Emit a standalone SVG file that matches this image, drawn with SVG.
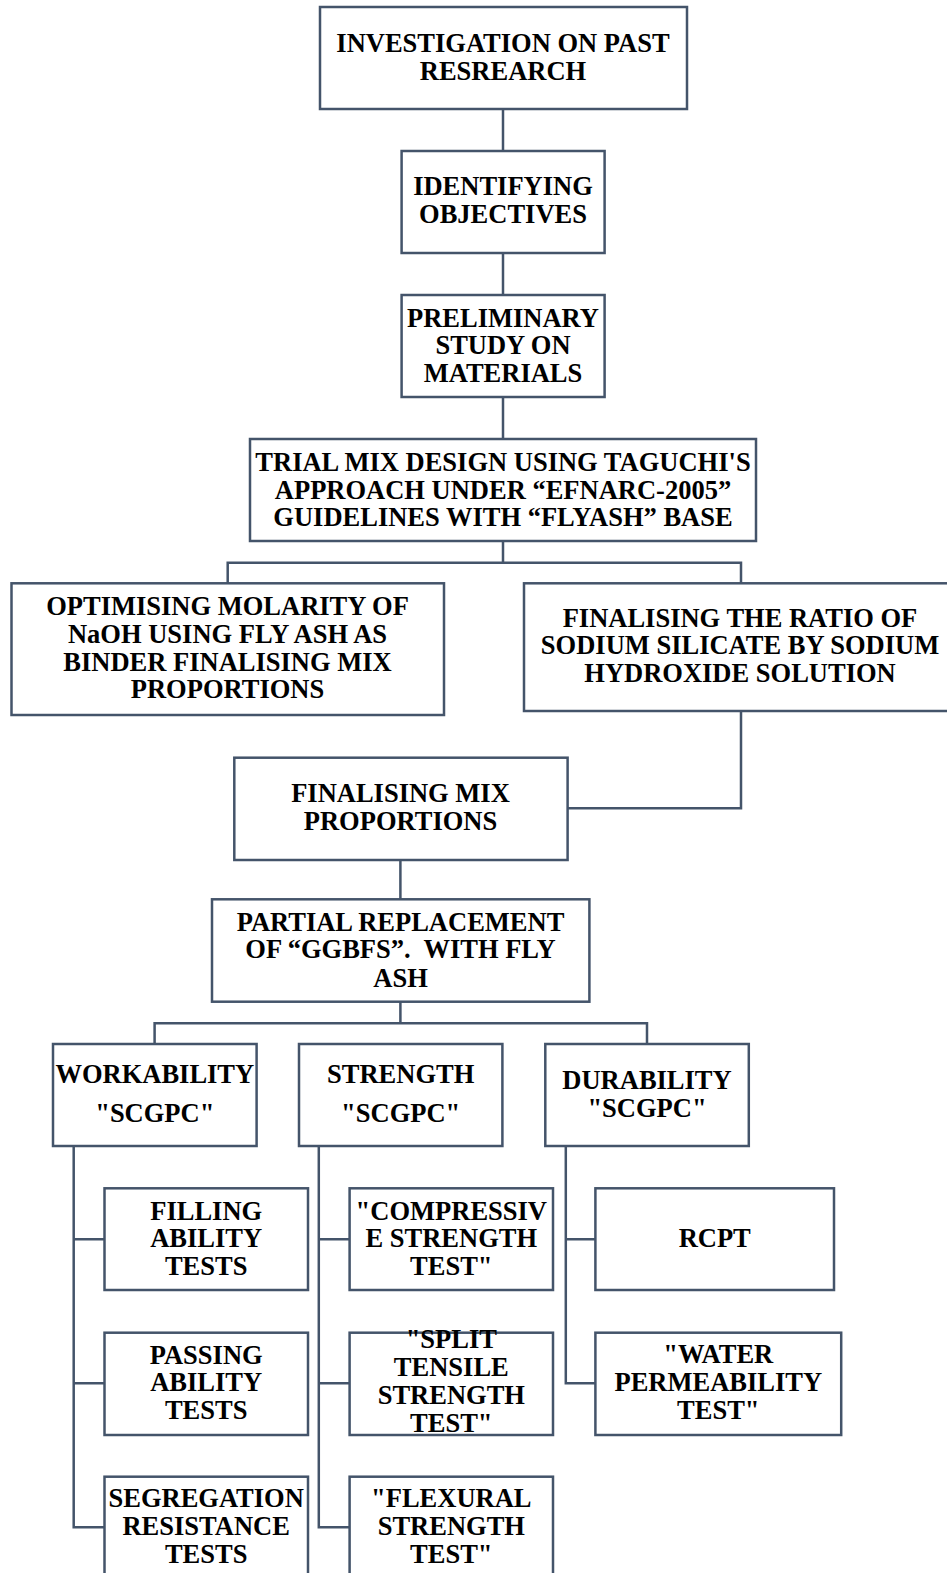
<svg xmlns="http://www.w3.org/2000/svg" width="947" height="1573" viewBox="0 0 947 1573">
<style>
rect.box{fill:#fff;stroke:#44546a;stroke-width:2.5}
.conn path{fill:none;stroke:#44546a;stroke-width:2.5}
text{font-family:"Liberation Serif","Times New Roman",serif;font-weight:bold;font-size:26.5px;fill:#000;text-anchor:middle}
</style>
<rect width="947" height="1573" fill="#fff"/>
<g class="conn" id="connectors">
<path d="M503 109V151"/>
<path d="M503 253V295"/>
<path d="M503 397V439"/>
<path d="M503 541V562.7M227.7 583.3V562.7H741V583.3"/>
<path d="M741 711V808.3H567.6"/>
<path d="M400.4 860V899.3"/>
<path d="M400.4 1001.7V1023.3M154.6 1044V1023.3H647V1044"/>
<path d="M73.7 1146V1527.3H104.5M73.7 1239.3H104.5M73.7 1383.3H104.5"/>
<path d="M318.8 1146V1527.3H349.6M318.8 1239.3H349.6M318.8 1383.3H349.6"/>
<path d="M565.8 1146V1383.3H595.4M565.8 1239.3H595.4"/>
</g>
<g id="n1"><rect class="box" x="320" y="7" width="367" height="102"/>
<text x="503" y="52">INVESTIGATION ON PAST</text><text x="503" y="80">RESREARCH</text></g>
<g id="n2"><rect class="box" x="401.6" y="151" width="203" height="102"/>
<text x="503" y="195">IDENTIFYING</text><text x="503" y="223.3">OBJECTIVES</text></g>
<g id="n3"><rect class="box" x="401.6" y="295" width="203" height="102"/>
<text x="503" y="326.7">PRELIMINARY</text><text x="503" y="354">STUDY ON</text><text x="503" y="381.7">MATERIALS</text></g>
<g id="n4"><rect class="box" x="250" y="439" width="506" height="102"/>
<text x="503" y="471">TRIAL MIX DESIGN USING TAGUCHI'S</text><text x="503" y="498.5">APPROACH UNDER “EFNARC-2005”</text><text x="503" y="526">GUIDELINES WITH “FLYASH” BASE</text></g>
<g id="n5"><rect class="box" x="11.5" y="583.3" width="432.5" height="131.7"/>
<text x="227.5" y="615">OPTIMISING MOLARITY OF</text><text x="227.5" y="642.7">NaOH USING FLY ASH AS</text><text x="227.5" y="670.7">BINDER FINALISING MIX</text><text x="227.5" y="698.3">PROPORTIONS</text></g>
<g id="n6"><rect class="box" x="524" y="583.3" width="432" height="127.7"/>
<text x="740" y="626.7">FINALISING THE RATIO OF</text><text x="740" y="654.3">SODIUM SILICATE BY SODIUM</text><text x="740" y="682.3">HYDROXIDE SOLUTION</text></g>
<g id="n7"><rect class="box" x="234.3" y="757.7" width="333.3" height="102.3"/>
<text x="400.5" y="802.3">FINALISING MIX</text><text x="400.5" y="830">PROPORTIONS</text></g>
<g id="n8"><rect class="box" x="212" y="899.3" width="377.4" height="102.4"/>
<text x="400.5" y="930.7">PARTIAL REPLACEMENT</text><text x="400.5" y="958.3" xml:space="preserve">OF “GGBFS”.  WITH FLY</text><text x="400.5" y="986.7">ASH</text></g>
<g id="n9"><rect class="box" x="53" y="1044" width="203.6" height="102"/>
<text x="154.8" y="1083.3">WORKABILITY</text><text x="154.8" y="1122.3">"SCGPC"</text></g>
<g id="n10"><rect class="box" x="299" y="1044" width="203.4" height="102"/>
<text x="400.7" y="1083.3">STRENGTH</text><text x="400.7" y="1122.3">"SCGPC"</text></g>
<g id="n11"><rect class="box" x="545.3" y="1044" width="203.5" height="102"/>
<text x="647" y="1089.3">DURABILITY</text><text x="647" y="1116.7">"SCGPC"</text></g>
<g id="n12"><rect class="box" x="104.5" y="1188.3" width="203.5" height="101.7"/>
<text x="206.2" y="1220">FILLING</text><text x="206.2" y="1247.3">ABILITY</text><text x="206.2" y="1275">TESTS</text></g>
<g id="n13"><rect class="box" x="104.5" y="1332.7" width="203.5" height="102.3"/>
<text x="206.2" y="1364">PASSING</text><text x="206.2" y="1391.3">ABILITY</text><text x="206.2" y="1419">TESTS</text></g>
<g id="n14"><rect class="box" x="104.5" y="1476.7" width="203.5" height="120"/>
<text x="206.2" y="1507.3">SEGREGATION</text><text x="206.2" y="1535">RESISTANCE</text><text x="206.2" y="1562.7">TESTS</text></g>
<g id="n15"><rect class="box" x="349.6" y="1188.3" width="203.4" height="101.7"/>
<text x="451.3" y="1220">"COMPRESSIV</text><text x="451.3" y="1247.3">E STRENGTH</text><text x="451.3" y="1275">TEST"</text></g>
<g id="n16"><rect class="box" x="349.6" y="1332.7" width="203.4" height="102.3"/>
<text x="451.3" y="1348.3">"SPLIT</text><text x="451.3" y="1376.2">TENSILE</text><text x="451.3" y="1404">STRENGTH</text><text x="451.3" y="1431.8">TEST"</text></g>
<g id="n17"><rect class="box" x="349.6" y="1476.7" width="203.4" height="120"/>
<text x="451.3" y="1507.3">"FLEXURAL</text><text x="451.3" y="1535">STRENGTH</text><text x="451.3" y="1562.7">TEST"</text></g>
<g id="n18"><rect class="box" x="595.4" y="1188.3" width="238.6" height="101.7"/>
<text x="714.7" y="1247.3">RCPT</text></g>
<g id="n19"><rect class="box" x="595.4" y="1332.7" width="245.8" height="102.3"/>
<text x="718.3" y="1363.3">"WATER</text><text x="718.3" y="1391">PERMEABILITY</text><text x="718.3" y="1419">TEST"</text></g>
</svg>
